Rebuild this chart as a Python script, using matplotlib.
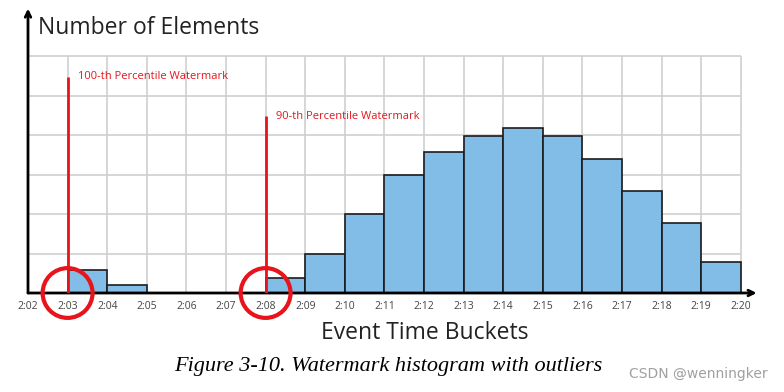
import matplotlib.pyplot as plt
from matplotlib.patches import Circle

# minute ticks along the x axis
tick_labels = ['2:02', '2:03', '2:04', '2:05', '2:06', '2:07', '2:08', '2:09', '2:10',
               '2:11', '2:12', '2:13', '2:14', '2:15', '2:16', '2:17', '2:18', '2:19', '2:20']

# histogram buckets (left edge) and element counts (in grid units)
bucket_starts = ['2:03', '2:04', '2:08', '2:09', '2:10', '2:11', '2:12',
                 '2:13', '2:14', '2:15', '2:16', '2:17', '2:18', '2:19']
counts = [0.58, 0.19, 0.37, 1.0, 2.0, 3.0, 3.58, 3.98, 4.18, 3.98, 3.38, 2.59, 1.78, 0.78]

# watermarks: label, minute, line height
wm_labels = ['100-th Percentile Watermark', '90-th Percentile Watermark']
wm_minutes = ['2:03', '2:08']
wm_heights = [5.47, 4.48]

W, H = 784, 392
px_x = 39.6
px_y = 39.5
x0, y0 = 28, 293
xmax, ymax = 18.4, 7.2

fig = plt.figure(figsize=(W / 100, H / 100), dpi=100)
ax = fig.add_axes([x0 / W, (H - y0) / H, xmax * px_x / W, ymax * px_y / H])
ax.set_xlim(0, xmax)
ax.set_ylim(0, ymax)
for s in ax.spines.values():
    s.set_visible(False)

n = len(tick_labels) - 1
# grid
ax.vlines(range(1, n + 1), 0, 6, color='#cfcfcf', lw=1.2, zorder=0)
ax.hlines(range(1, 7), 0, n, color='#cfcfcf', lw=1.2, zorder=0)

# bars
pos = [tick_labels.index(b) for b in bucket_starts]
ax.bar(pos, counts, width=1, align='edge', color='#82bde8', edgecolor='#1c1c1c',
       lw=1.2, zorder=2)

# axes arrows
ax.annotate('', xy=(xmax, 0), xytext=(0, 0), annotation_clip=False,
            arrowprops=dict(arrowstyle='->', lw=2, color='black', shrinkA=0, shrinkB=0), zorder=3)
ax.annotate('', xy=(0, ymax), xytext=(0, 0), annotation_clip=False,
            arrowprops=dict(arrowstyle='->', lw=2, color='black', shrinkA=0, shrinkB=0), zorder=3)

# watermarks
red = '#e8141c'
for lab, m, h in zip(wm_labels, wm_minutes, wm_heights):
    xm = tick_labels.index(m)
    ax.plot([xm, xm], [0, h], color=red, lw=2, zorder=4, solid_capstyle='butt')
    ax.text(xm + 0.25, h, lab, color=red, fontsize=8, family='Open Sans',
            va='center', ha='left')
    ax.add_patch(Circle((xm, 0), 0.63, fill=False, ec=red, lw=3, zorder=5, clip_on=False))

ax.set_xticks(range(len(tick_labels)))
ax.set_xticklabels(tick_labels, fontsize=7.5, color='#444444', family='Open Sans')
ax.tick_params(axis='x', length=0, pad=6)
ax.set_yticks([])

fig.text(38 / W, 1 - 28 / H, 'Number of Elements', fontsize=16.5, family='Open Sans',
         color='#222222', va='center', ha='left')
fig.text(425 / W, 1 - 333 / H, 'Event Time Buckets', fontsize=16.5, family='Open Sans',
         color='#222222', va='center', ha='center')
fig.text(388 / W, 1 - 367 / H, 'Figure 3-10. Watermark histogram with outliers',
         fontsize=16, family='Liberation Serif', style='italic', color='black',
         va='center', ha='center')
fig.text(698 / W, 1 - 374 / H, 'CSDN @wenningker', fontsize=10, family='DejaVu Sans',
         color='#a0a0a0', va='center', ha='center')

fig.savefig('out.png', dpi=100)
